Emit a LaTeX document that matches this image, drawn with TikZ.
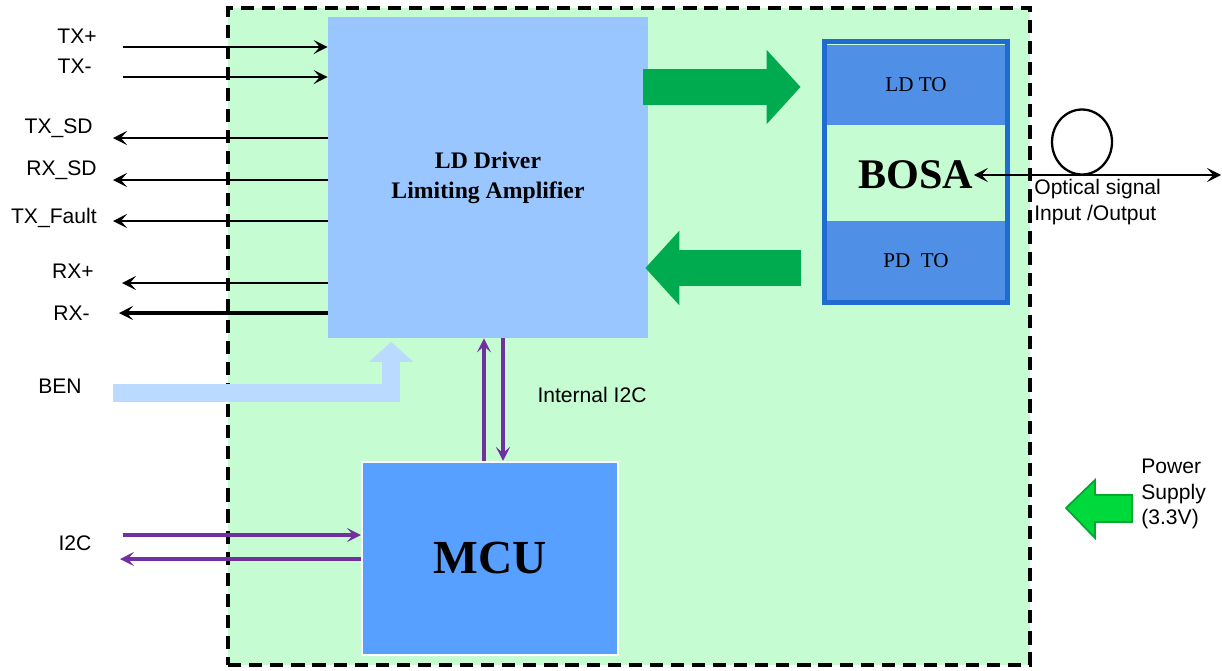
\documentclass[tikz,border=0pt]{standalone}
\usepackage{fontspec}
\setmainfont{Liberation Serif}
\setsansfont{Liberation Sans}
\usetikzlibrary{shapes,positioning,arrows.meta,calc}
\definecolor{modgreen}{HTML}{C6FCD2}
\definecolor{ldblue}{HTML}{99C6FF}
\definecolor{bosaedge}{HTML}{1F6BD0}
\definecolor{tofill}{HTML}{4F8FE5}
\definecolor{mcublue}{HTML}{58A0FF}
\definecolor{fatgreen}{HTML}{00AA4F}
\definecolor{pwrgreen}{HTML}{00D93C}
\definecolor{pwredge}{HTML}{00A82E}
\definecolor{benblue}{HTML}{BBDAFF}
\definecolor{i2cpurple}{HTML}{7030A0}

\begin{document}
\begin{tikzpicture}[x=0.02cm, y=-0.02cm,
						every node/.style={inner sep=0pt},
						sansl/.style={font=\sffamily\fontsize{12}{14.5}\selectfont},
						sig/.style={sansl, anchor=east},
						modbox/.style={draw=black, line width=2pt, dash pattern=on 7.5pt off 4.5pt, fill=modgreen, minimum width=16.04cm, minimum height=13.14cm},
						ldbox/.style={fill=ldblue, minimum width=6.4cm, minimum height=6.42cm, align=center, font=\bfseries\fontsize{13.5}{17}\selectfont},
						tobox/.style={fill=tofill, minimum width=3.6cm, minimum height=1.62cm, font=\fontsize{12}{14}\selectfont},
						bosaframe/.style={draw=bosaedge, line width=2.8pt, minimum width=3.66cm, minimum height=5.22cm},
						mcubox/.style={fill=mcublue, draw=white, line width=1.2pt, minimum width=5.12cm, minimum height=3.86cm, font=\bfseries\fontsize{27}{30}\selectfont},
						sigline/.style={line width=1.4pt, -{Stealth[length=8pt, width=8pt, inset=3.5pt]}},
						i2c/.style={draw=i2cpurple, line width=1.8pt, -{Stealth[length=8pt, width=8pt, inset=3.5pt]}},
						fatarrow/.style={draw=fatgreen, line width=0.72cm, -{Triangle[length=0.68cm, width=1.45cm]}},
						benarrow/.style={draw=benblue, line width=0.36cm, line join=miter, -{Triangle[length=0.4cm, width=0.86cm]}},
						pwrarrow/.style={fill=pwrgreen, draw=pwredge, line width=1pt, line join=miter}]
					\useasboundingbox (0,0) rectangle (1222,670);
					\node[modbox] (module) at (629,336.5) {};
					
					\node[ldbox] (ld) at (488,177.5) {LD Driver\\Limiting Amplifier};
					\node[mcubox] (mcu) at (490,558.5) {MCU};
					
					% BOSA
					\node[tobox] (ldto) at (916,85) {LD TO};
					\node[tobox] (pdto) at (916,261) {PD\ \ TO};
					\node[bosaframe] (bosa) at (916,172) {};
					\node[font=\bfseries\fontsize{24}{28}\selectfont] (bosatext) at (916,175) {BOSA};
					
					\draw[fatarrow] ($(ld.east |- ldto)+(-5,2)$) -- ($(bosa.west |- ldto)+(-21.5,2)$);
					\draw[fatarrow] ($(bosa.west |- pdto)+(-21.5,7)$) -- ($(ld.east |- pdto)+(-3,7)$);
					
					% fibre
					\node[draw, ellipse, line width=1.3pt, minimum width=1.2cm, minimum height=1.3cm] (loop) at (1082,142) {};
					\coordinate (fiberend) at (1221,175);
					\draw[line width=1.4pt, {Stealth[length=8pt, width=8pt, inset=3.5pt]}-{Stealth[length=8pt, width=8pt, inset=3.5pt]}] (bosatext.east) -- (fiberend);
					\node[sansl, anchor=north west, align=left] (optlab) at (1034,179) {Optical signal\\Input /Output};
					
					% left side signals
					\node[sig] (txplab) at (97,36) {TX+};
					\node[sig] (txmlab) at (92,66) {TX-};
					\node[sig] (txsdlab) at (93,128) {TX\_SD};
					\node[sig] (rxsdlab) at (97,170) {RX\_SD};
					\node[sig] (txflab) at (97,218) {TX\_Fault};
					\node[sig] (rxplab) at (94,271) {RX+};
					\node[sig] (rxmlab) at (90,313) {RX-};
					
					\coordinate (txp) at (123,47);
					\coordinate (txm) at (123,77);
					\coordinate (txsd) at (113,138);
					\coordinate (rxsd) at (113,180);
					\coordinate (txf) at (113,221);
					\coordinate (rxp) at (122,283);
					\coordinate (rxm) at (119,313);
					
					\draw[sigline] (txp) -- (ld.west |- txp);
					\draw[sigline] (txm) -- (ld.west |- txm);
					\draw[sigline] (ld.west |- txsd) -- (txsd);
					\draw[sigline] (ld.west |- rxsd) -- (rxsd);
					\draw[sigline] (ld.west |- txf) -- (txf);
					\draw[sigline] (ld.west |- rxp) -- (rxp);
					\draw[sigline, line width=2pt] (ld.west |- rxm) -- (rxm);
					
					% BEN
					\node[sansl] (benlab) at (60,386) {BEN};
					\coordinate (benin) at (113,393);
					\draw[benarrow] (benin) -| ($(ld.south west)+(63.5,3.5)$);
					
					% I2C
					\draw[i2c] ($(mcu.north)+(-6,0)$) -- ($(ld.south)+(-4,0)$);
					\draw[i2c] ($(ld.south)+(15,0)$) -- ($(mcu.north)+(13,0)$);
					\node[sansl] (intlab) at (592,395) {Internal I2C};
					
					\node[sansl] (i2clab) at (75,543) {I2C};
					\coordinate (i2cin) at (123,535);
					\coordinate (i2cout) at (120,559);
					\draw[i2c] (i2cin) -- (mcu.west |- i2cin);
					\draw[i2c, line width=2.4pt] (mcu.west |- i2cout) -- (i2cout);
					
					% power
					\draw[pwrarrow] (1066,508) -- (1095,480) -- (1095,495) -- (1132,495) -- (1132,522) -- (1095,522) -- (1095,538) -- cycle;
					\node[sansl, anchor=north west, align=left] (pwrlab) at (1141,459) {Power\\Supply\\(3.3V)};
				\end{tikzpicture}
\end{document}
